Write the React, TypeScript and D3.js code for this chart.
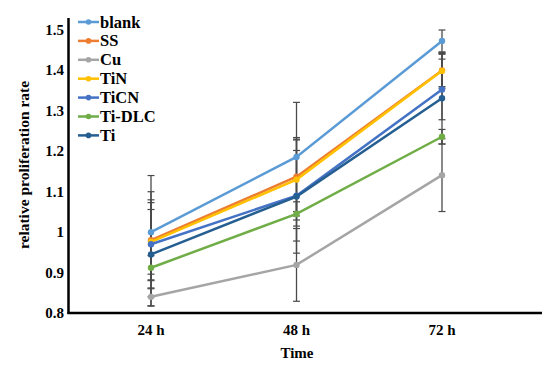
import React, { useRef, useEffect } from 'react';
import * as d3 from 'd3';

const times = ['24 h', '48 h', '72 h'];
const seriesNames = ['blank', 'SS', 'Cu', 'TiN', 'TiCN', 'Ti-DLC', 'Ti'];
const seriesColors = ['#5B9BD5', '#ED7D31', '#A5A5A5', '#FFC000', '#4472C4', '#70AD47', '#255E91'];

const blank = [1.0, 1.186, 1.473];
const ss = [0.98, 1.137, 1.4];
const cu = [0.84, 0.919, 1.141];
const tin = [0.976, 1.13, 1.399];
const ticn = [0.97, 1.09, 1.353];
const tidlc = [0.912, 1.045, 1.236];
const ti = [0.945, 1.088, 1.331];

const blankErr = [0.14, 0.135, 0.027];
const ssErr = [0.1, 0.097, 0.04];
const cuErr = [0.022, 0.09, 0.09];
const tinErr = [0.08, 0.1, 0.043];
const ticnErr = [0.13, 0.112, 0.075];
const tidlcErr = [0.03, 0.03, 0.018];
const tiErr = [0.128, 0.14, 0.113];

const yTicks = [0.8, 0.9, 1, 1.1, 1.2, 1.3, 1.4, 1.5];

const allValues = [blank, ss, cu, tin, ticn, tidlc, ti];
const allErrors = [blankErr, ssErr, cuErr, tinErr, ticnErr, tidlcErr, tiErr];

function ProliferationChart() {
  const chartRef = useRef(null);
  const width = 550;
  const height = 367;

  useEffect(() => {
    const svg = d3.select(chartRef.current);
    svg.selectAll('*').remove();

    const font = '"Liberation Serif", "Times New Roman", serif';
    const left = 68.5;
    const right = 542;
    const bottom = 313;

    const x = d3.scalePoint().domain(times).range([151, 442]);
    const y = d3.scaleLinear().domain([0.8, 1.5]).range([bottom, 30]);

    const data = seriesNames.map((name, i) => ({
      name,
      color: seriesColors[i],
      points: times.map((t, j) => ({ t, v: allValues[i][j], e: allErrors[i][j] })),
    }));

    // error bars
    const errG = svg.append('g');
    data.forEach((s) => {
      s.points.forEach((p) => {
        const cx = x(p.t);
        const y0 = y(p.v - p.e);
        const y1 = y(p.v + p.e);
        errG.append('line').attr('x1', cx).attr('x2', cx).attr('y1', y0).attr('y2', y1)
          .attr('stroke', '#4a4a4a').attr('stroke-width', 1.3);
        [y0, y1].forEach((yy) => {
          errG.append('line').attr('x1', cx - 3.5).attr('x2', cx + 3.5).attr('y1', yy).attr('y2', yy)
            .attr('stroke', '#4a4a4a').attr('stroke-width', 1.2);
        });
      });
    });

    // lines
    const line = d3.line<any>().x((d) => x(d.t)).y((d) => y(d.v));
    data.forEach((s) => {
      svg.append('path').datum(s.points).attr('d', line)
        .attr('fill', 'none').attr('stroke', s.color).attr('stroke-width', 2.5);
      svg.selectAll(null).data(s.points).enter().append('circle')
        .attr('cx', (d) => x(d.t)).attr('cy', (d) => y(d.v)).attr('r', 3.2)
        .attr('fill', s.color);
    });

    // axes
    svg.append('line').attr('x1', left).attr('x2', left).attr('y1', 18).attr('y2', bottom + 1)
      .attr('stroke', '#000').attr('stroke-width', 2.5);
    svg.append('line').attr('x1', left - 1).attr('x2', right).attr('y1', bottom).attr('y2', bottom)
      .attr('stroke', '#000').attr('stroke-width', 2.5);

    svg.append('g').selectAll('text').data(yTicks).enter().append('text')
      .attr('x', 64).attr('y', (d) => y(d) + 5)
      .attr('text-anchor', 'end').attr('font-family', font).attr('font-weight', 'bold')
      .attr('font-size', 15).text((d) => d3.format('')(d));

    svg.append('g').selectAll('text').data(times).enter().append('text')
      .attr('x', (d) => x(d)).attr('y', 335)
      .attr('text-anchor', 'middle').attr('font-family', font).attr('font-weight', 'bold')
      .attr('font-size', 15).text((d) => d);

    svg.append('text').attr('x', 297).attr('y', 358).attr('text-anchor', 'middle')
      .attr('font-family', font).attr('font-weight', 'bold').attr('font-size', 15).text('Time');

    svg.append('text').attr('transform', 'translate(29,165) rotate(-90)').attr('text-anchor', 'middle')
      .attr('font-family', font).attr('font-weight', 'bold').attr('font-size', 15.5)
      .text('relative proliferation rate');

    // legend
    const legend = svg.append('g');
    data.forEach((s, i) => {
      const ly = 22 + i * 18.9;
      legend.append('line').attr('x1', 78).attr('x2', 99).attr('y1', ly).attr('y2', ly)
        .attr('stroke', s.color).attr('stroke-width', 2.5);
      legend.append('circle').attr('cx', 88.5).attr('cy', ly).attr('r', 2.8).attr('fill', s.color);
      legend.append('text').attr('x', 100).attr('y', ly + 5.5).attr('font-family', font)
        .attr('font-weight', 'bold').attr('font-size', 16.5).text(s.name);
    });
  }, []);

  return <svg ref={chartRef} width={width} height={height} style={{ display: 'block' }}></svg>;
}

export default function App() {
  return (
    <div style={{ position: 'absolute', left: 0, top: 0 }}>
      <ProliferationChart />
    </div>
  );
}
